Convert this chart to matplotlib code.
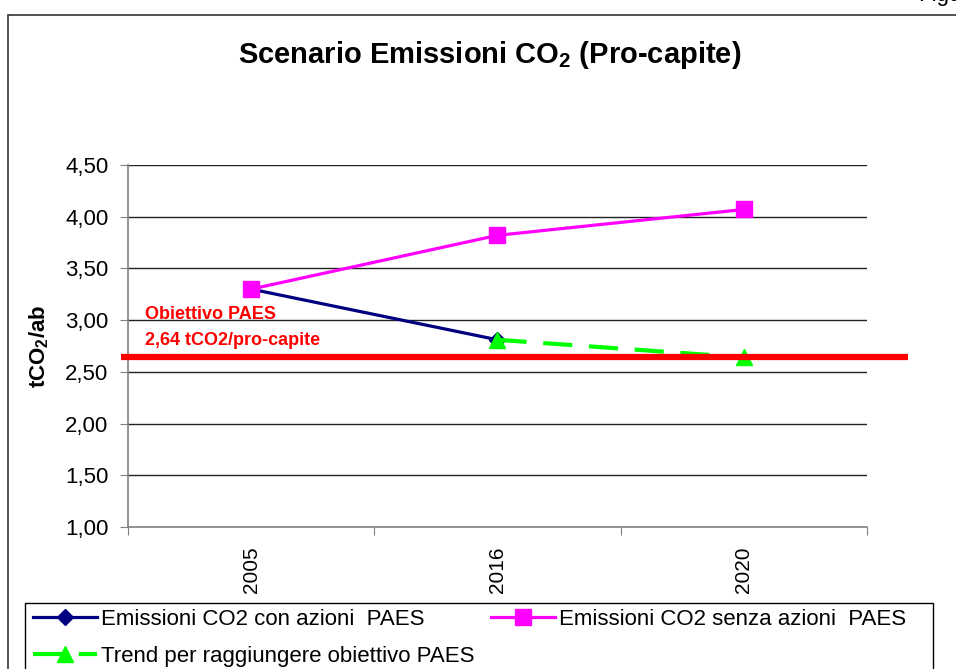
import numpy as np
import matplotlib
matplotlib.use('Agg')
import matplotlib.pyplot as plt
from matplotlib import patches

plt.rcParams['font.family'] = ['Liberation Sans', 'DejaVu Sans']
plt.rcParams['mathtext.fontset'] = 'custom'
plt.rcParams['mathtext.rm'] = 'Liberation Sans'
plt.rcParams['mathtext.bf'] = 'Liberation Sans:bold'

years = ['2005', '2016', '2020']
con_azioni = [3.30, 2.81]            # 2005, 2016
senza_azioni = [3.30, 3.82, 4.07]    # 2005, 2016, 2020
trend = [2.81, 2.64]                 # 2016, 2020
obiettivo = 2.64
yticks = [1.00, 1.50, 2.00, 2.50, 3.00, 3.50, 4.00, 4.50]

fig = plt.figure(figsize=(9.56, 6.69), dpi=100)

# outer frame and header text
fig.patches.append(patches.Rectangle((8 / 956, -0.1), 1.2, 1.1 - 15 / 669,
                                     transform=fig.transFigure, fill=False,
                                     ec='#333333', lw=1.2))
fig.text(918 / 956, 1 - 6 / 669, 'Figura', fontsize=16, ha='left', va='bottom')

ax = fig.add_axes([128 / 956, 1 - 527 / 669, 739 / 956, 362 / 669])
x = np.arange(len(years))

l1, = ax.plot(x[:2], con_azioni, color='#000080', lw=2.3, marker='D', ms=8,
              label='Emissioni CO2 con azioni  PAES', zorder=3)
l2, = ax.plot(x, senza_azioni, color='#FF00FF', lw=2.3, marker='s', ms=12,
              label='Emissioni CO2 senza azioni  PAES', zorder=4)
l3, = ax.plot(x[1:], trend, color='#00FF00', lw=3, ls=(0, (7, 4)), marker='^',
              ms=12, label='Trend per raggiungere obiettivo PAES', zorder=5)

ax.plot([-0.53, 2.665], [obiettivo, obiettivo], color='#FF0000', lw=4.5,
        clip_on=False, zorder=6, solid_capstyle='butt')
ax.text(-0.43, 2.97, 'Obiettivo PAES', color='#FF0000', fontsize=13,
        fontweight='bold', va='bottom', ha='left')
ax.text(-0.43, 2.72, '2,64 tCO2/pro-capite', color='#FF0000', fontsize=13,
        fontweight='bold', va='bottom', ha='left')

ax.set_xlim(-0.5, 2.5)
ax.set_ylim(1.0, 4.5)
ax.set_yticks(yticks)
ax.set_yticklabels(['{:.2f}'.format(v).replace('.', ',') for v in yticks])
ax.set_xticks([-0.5, 0.5, 1.5, 2.5])
ax.set_xticklabels([])
ax.set_xticks(x, minor=True)
ax.set_xticklabels(years, minor=True, rotation=90)
ax.tick_params(axis='x', which='minor', length=0, pad=14, labelsize=15)
ax.tick_params(axis='x', which='major', length=6, color='#808080')
ax.tick_params(axis='y', length=6, color='#808080', labelsize=16, pad=8)

for v in yticks[1:]:
    ax.axhline(v, color='#222222', lw=1, zorder=1)

for s in ['top', 'right']:
    ax.spines[s].set_visible(False)
for s in ['left', 'bottom']:
    ax.spines[s].set_color('#808080')
    ax.spines[s].set_linewidth(1.2)

ax.set_ylabel(r'$\mathbf{tCO_2/ab}$', fontsize=16, labelpad=10)
fig.text(490 / 956, 1 - 55 / 669, r'Scenario Emissioni CO$_\mathbf{2}$ (Pro-capite)',
         fontsize=21, fontweight='bold', ha='center', va='center')

# legend box
fig.patches.append(patches.Rectangle((25 / 956, -0.1), 908 / 956, 0.1 + 1 - 603 / 669,
                                     transform=fig.transFigure, fill=False,
                                     ec='black', lw=1))
fig.legend(handles=[l1, l3, l2], loc='upper left',
           bbox_to_anchor=(27 / 956, 1 - 603 / 669), ncol=2,
           frameon=False, fontsize=16, handlelength=2.9, handletextpad=0.2,
           columnspacing=0.7, borderaxespad=0, borderpad=0.25, labelspacing=0.75)

fig.savefig('out.png', dpi=100)
